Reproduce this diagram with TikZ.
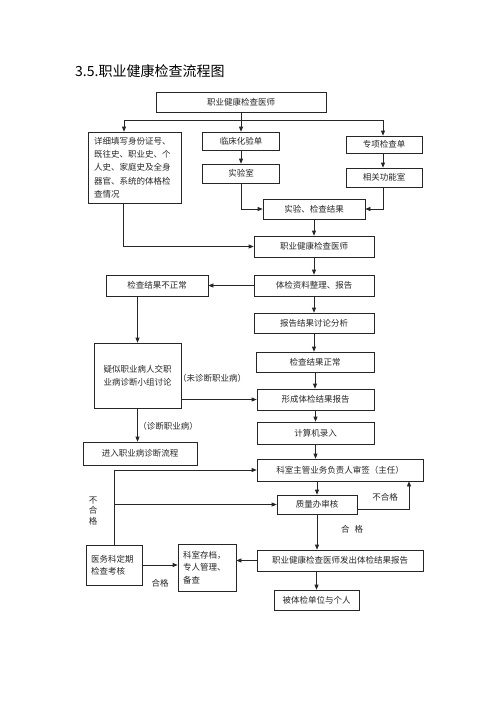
\documentclass[tikz,border=0pt]{standalone}
\usepackage{fontspec}
\newfontfamily\cjk{Noto Sans CJK SC}
\usetikzlibrary{arrows.meta}
\tikzset{
  box/.style={draw=black!85, line width=0.7pt, inner sep=0pt, font=\cjk\fontsize{8.5}{13.3}\selectfont, text=black!85, align=center},
  lbl/.style={inner sep=0pt, font=\cjk\fontsize{8.5}{10.5}\selectfont, text=black!85, align=center},
  arr/.style={draw=black!85, line width=0.7pt, -{Triangle[length=5pt,width=4pt]}},
  ln/.style={draw=black!85, line width=0.7pt}
}
\begin{document}
\begin{tikzpicture}[x=1pt,y=-1pt]
\useasboundingbox (0,0) rectangle (500,707);
\node[anchor=west, inner sep=0pt, font=\cjk\fontsize{14}{16}\selectfont] (title) at (75,71) {3.5.职业健康检查流程图};

\node[box, minimum width=170pt, minimum height=20pt] (b1) at (241,102) {职业健康检查医师};
\node[box, minimum width=93pt, minimum height=71pt, text width=81pt, align=left] (L) at (134.5,167.5) {详细填写身份证号、\\既往史、职业史、个\\人史、家庭史及全身\\器官、系统的体格检\\查情况};
\node[box, minimum width=77pt, minimum height=18pt] (lab1) at (241,141) {临床化验单};
\node[box, minimum width=77pt, minimum height=19pt] (lab2) at (241,173.5) {实验室};
\node[box, minimum width=76pt, minimum height=17pt] (sp1) at (384,144.5) {专项检查单};
\node[box, minimum width=76pt, minimum height=19pt] (sp2) at (384,177.5) {相关功能室};
\node[box, minimum width=102pt, minimum height=20pt] (res) at (314,209) {实验、检查结果};
\node[box, minimum width=120pt, minimum height=21pt] (b2) at (314,246.5) {职业健康检查医师};
\node[box, minimum width=120pt, minimum height=21pt] (b3) at (314,285.5) {体检资料整理、报告};
\node[box, minimum width=102pt, minimum height=21pt] (ab) at (157,285.5) {检查结果不正常};
\node[box, minimum width=120pt, minimum height=20pt] (b4) at (314,323) {报告结果讨论分析};
\node[box, minimum width=118pt, minimum height=20pt] (b5) at (315,362) {检查结果正常};
\node[box, minimum width=87pt, minimum height=65pt] (sus) at (137.5,375.5) {疑似职业病人交职\\业病诊断小组讨论};
\node[box, minimum width=117pt, minimum height=21pt] (b6) at (315.5,399.5) {形成体检结果报告};
\node[box, minimum width=117pt, minimum height=22pt] (b7) at (315.5,433) {计算机录入};
\node[box, minimum width=114pt, minimum height=23pt] (diag) at (140,453.5) {进入职业病诊断流程};
\node[box, minimum width=166pt, minimum height=22pt] (b8) at (340,470) {科室主管业务负责人审签（主任）};
\node[box, minimum width=80pt, minimum height=19pt] (qa) at (317,504.5) {质量办审核};
\node[box, minimum width=166pt, minimum height=21pt] (b9) at (340,560.5) {职业健康检查医师发出体检结果报告};
\node[box, minimum width=58pt, minimum height=47pt, text width=48pt, align=left, font=\cjk\fontsize{8.5}{12.5}\selectfont] (arch) at (207,567.5) {科室存档，\\专人管理、\\备查};
\node[box, minimum width=56pt, minimum height=40pt, text width=46pt, align=left, font=\cjk\fontsize{8.5}{12}\selectfont] (med) at (114,565) {医务科定期\\检查考核};
\node[box, minimum width=85pt, minimum height=20pt] (tgt) at (316.5,600) {被体检单位与个人};

% labels
\node[lbl] (l1) at (212,378) {（未诊断职业病）};
\node[lbl] (l2) at (168,426) {（诊断职业病）};
\node[lbl] (l3) at (385,497) {不合格};
\node[lbl] (l4) at (352,529) {合\hspace{5pt}格};
\node[lbl] (l5) at (160,583) {合格};
\node[lbl] (l6) at (93,511) {不\\合\\格};

% connectors
\coordinate (jl) at (124,120);
\coordinate (jr) at (383,120);
\coordinate (ls) at (123,203);
\coordinate (qr) at (357,509);
\coordinate (qt) at (409,509);
\draw[arr] (b1.south) -- (b1.south |- lab1.north);
\draw[ln] (jl) -- (jr);
\draw[arr] (jl) -- (jl |- L.north);
\draw[arr] (jr) -- (jr |- sp1.north);
\draw[arr] (lab1) -- (lab2);
\draw[arr] (jr |- sp1.south) -- (jr |- sp2.north);
\draw[arr] (lab2.south) |- (res.west);
\draw[arr] (jr |- sp2.south) |- (res.east);
\draw[arr] (res) -- (b2);
\draw[arr] (ls) |- (b2.west);
\draw[arr] (b2) -- (b3);
\draw[arr] (b3) -- (b4);
\draw[arr] (b4.south) -- (b4.south |- b5.north);
\draw[arr] (b3.west) -- (ab.east);
\draw[arr] (sus.north |- ab.south) -- (sus.north);
\draw[arr] (sus.east |- b6.west) -- (b6.west);
\draw[arr] (sus.south) -- (sus.south |- diag.north);
\draw[arr] (b5.south) -- (b5.south |- b6.north);
\draw[arr] (b6) -- (b7);
\draw[arr] (b7.south) -- (b7.south |- b8.north);
\draw[arr] (qa.north |- b8.south) -- (qa.north);
\draw[arr] (qr) -- (qt) -- (qt |- b8.south);
\draw[arr] (qa.south) -- (qa.south |- b9.north);
\draw[arr] (b9.west) -- (arch.east |- b9.west);
\draw[arr] (tgt.north |- b9.south) -- (tgt.north);
\draw[arr] (med.east) -- (arch.west |- med.east);
\draw[arr] (med.north) |- (b8.west);
\draw[arr] (med.north |- qa.west) -- (qa.west);
\end{tikzpicture}
\end{document}
